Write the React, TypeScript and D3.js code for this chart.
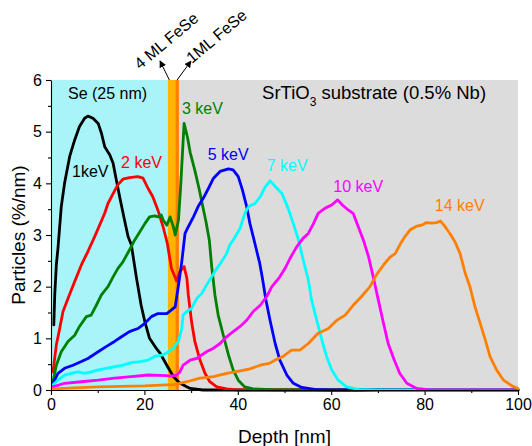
import React, { useEffect, useRef } from "react";
import * as d3 from "d3";

// ---------- data ----------
const x1keV = [0.6, 0.8, 1.14, 1.5, 2.2, 2.9, 4.0, 5.07, 6.1, 7.2, 7.9, 9.0, 10.1, 10.8, 11.5, 12.6, 13.3, 14.0, 14.7, 15.6, 16.5, 17.2, 18.3, 19.3, 20.1, 21.1, 22.6, 23.3, 24.8, 26.2, 27.6, 29.8, 32.5, 40, 100];
const y1keV = [1.26, 1.84, 2.42, 2.75, 3.55, 4.0, 4.52, 4.84, 5.1, 5.26, 5.3, 5.26, 5.16, 4.97, 4.71, 4.55, 4.39, 4.06, 3.74, 3.35, 2.97, 2.81, 2.17, 1.64, 1.32, 1.0, 0.8, 0.72, 0.48, 0.26, 0.13, 0.03, 0, 0, 0];

const x2keV = [0.43, 1.14, 1.86, 2.57, 3.64, 5.07, 6.5, 7.9, 9.35, 10.4, 11.5, 12.2, 13.3, 14.3, 15.4, 16.8, 18.6, 19.7, 20.8, 21.8, 22.9, 24.0, 24.9, 25.8, 26.9, 27.6, 28.5, 29.1, 29.4, 30.1, 30.8, 31.9, 33.0, 34.0, 35.5, 37.6, 40, 100];
const y2keV = [0.35, 0.87, 1.19, 1.52, 1.77, 2.1, 2.42, 2.68, 2.97, 3.19, 3.42, 3.61, 3.8, 3.97, 4.08, 4.11, 4.13, 4.1, 3.9, 3.74, 3.48, 3.16, 2.84, 2.35, 2.11, 2.29, 2.39, 2.16, 1.84, 1.32, 0.94, 0.58, 0.32, 0.16, 0.06, 0.02, 0, 0];

const x3keV = [0.43, 1.14, 2.2, 3.64, 5.07, 6.1, 7.57, 8.6, 9.7, 10.8, 12.2, 13.3, 14.3, 15.4, 16.8, 17.9, 19.0, 20.1, 21.1, 22.2, 22.9, 23.6, 24.0, 24.8, 25.5, 26.2, 26.6, 27.3, 27.8, 28.5, 29.2, 29.8, 30.8, 31.7, 32.5, 33.2, 33.9, 34.4, 35.1, 35.8, 36.9, 38.0, 39.0, 40.1, 41.5, 43.3, 48, 100];
const y3keV = [0.16, 0.48, 0.74, 0.94, 1.06, 1.23, 1.42, 1.45, 1.64, 1.84, 2.0, 2.19, 2.35, 2.48, 2.71, 2.9, 3.06, 3.22, 3.35, 3.37, 3.35, 3.39, 3.29, 3.19, 3.35, 3.16, 3.0, 3.29, 4.0, 5.16, 4.9, 4.6, 4.25, 3.9, 3.55, 3.25, 2.9, 2.4, 1.84, 1.45, 1.06, 0.68, 0.39, 0.19, 0.06, 0.02, 0, 0];

const x5keV = [0.43, 1.5, 2.9, 4.7, 6.5, 7.9, 10.1, 11.8, 13.6, 15.1, 16.8, 18.6, 20.1, 21.5, 22.9, 24.8, 25.8, 26.6, 27.3, 28.0, 28.7, 29.4, 30.5, 31.5, 32.6, 33.7, 34.8, 36.2, 38.0, 39.0, 40.1, 41.0, 41.9, 42.6, 43.3, 44.0, 44.7, 45.3, 46.0, 46.9, 48.0, 49.0, 50.5, 51.9, 53.7, 56.5, 60, 100];
const y5keV = [0.13, 0.32, 0.42, 0.48, 0.55, 0.61, 0.74, 0.84, 0.94, 1.03, 1.13, 1.19, 1.29, 1.42, 1.48, 1.48, 1.55, 1.61, 2.03, 2.48, 3.03, 3.16, 3.35, 3.55, 3.71, 3.9, 4.1, 4.23, 4.28, 4.26, 4.13, 3.87, 3.55, 3.22, 2.97, 2.71, 2.45, 2.15, 1.75, 1.35, 0.9, 0.58, 0.29, 0.13, 0.05, 0.01, 0, 0];

const x7keV = [0.43, 1.5, 2.9, 4.35, 5.8, 7.2, 8.6, 10.1, 11.8, 13.6, 15.4, 17.2, 19.0, 20.8, 22.2, 24.0, 24.8, 26.2, 27.3, 28.0, 28.3, 29.1, 30.1, 31.2, 32.3, 33.3, 34.4, 35.5, 36.5, 37.6, 38.3, 39.0, 40.5, 41.5, 42.3, 43.7, 44.8, 45.8, 46.9, 48.0, 49.4, 50.5, 51.9, 53.0, 54.0, 55.1, 55.8, 56.9, 58.0, 59.0, 60.1, 61.5, 63.3, 65.8, 70, 100];
const y7keV = [0.1, 0.19, 0.29, 0.32, 0.35, 0.32, 0.35, 0.39, 0.42, 0.45, 0.48, 0.53, 0.55, 0.58, 0.65, 0.68, 0.72, 0.81, 0.94, 1.19, 1.45, 1.52, 1.58, 1.77, 1.87, 2.03, 2.19, 2.35, 2.48, 2.64, 2.81, 2.9, 3.13, 3.42, 3.55, 3.61, 3.74, 3.92, 4.05, 3.94, 3.81, 3.58, 3.22, 2.9, 2.52, 2.13, 1.74, 1.35, 0.97, 0.65, 0.39, 0.19, 0.06, 0.01, 0, 0];

const x10keV = [0.43, 2.9, 6.5, 10.1, 13.6, 17.2, 20.8, 24.7, 25.5, 26.9, 27.6, 28.3, 29.8, 31.2, 32.3, 33.3, 34.8, 36.2, 37.6, 39.0, 40.5, 41.9, 43.3, 44.8, 46.2, 47.3, 49.0, 50.1, 51.2, 52.6, 54.0, 55.1, 56.2, 57.2, 58.7, 60.1, 61.4, 62.4, 63.7, 64.7, 65.8, 66.9, 68.0, 69.0, 70.1, 71.2, 72.2, 73.5, 74.7, 76.2, 78.3, 81.2, 100];
const y10keV = [0.06, 0.13, 0.16, 0.19, 0.23, 0.26, 0.29, 0.28, 0.27, 0.29, 0.35, 0.48, 0.58, 0.61, 0.68, 0.74, 0.81, 0.9, 1.03, 1.13, 1.23, 1.35, 1.52, 1.64, 1.81, 2.0, 2.19, 2.35, 2.55, 2.77, 2.94, 3.03, 3.22, 3.42, 3.52, 3.58, 3.68, 3.58, 3.48, 3.42, 3.16, 2.9, 2.58, 2.19, 1.74, 1.29, 0.9, 0.58, 0.32, 0.13, 0.03, 0, 0];

const x14keV = [0.43, 5, 10, 15, 20, 24.7, 26.2, 29.1, 31.9, 34.8, 37.6, 40.5, 42.6, 44.8, 46.9, 48.0, 49.7, 51.5, 53.3, 55.1, 57.2, 59.4, 61.2, 63.0, 64.7, 66.5, 68.3, 69.7, 71.2, 72.6, 73.7, 74.7, 75.8, 76.9, 78.3, 79.4, 80.4, 81.5, 82.6, 83.4, 84.4, 85.4, 86.5, 87.6, 88.7, 89.7, 90.8, 91.9, 93.0, 94.0, 95.4, 96.9, 98.7, 100];
const y14keV = [0.02, 0.04, 0.06, 0.07, 0.08, 0.1, 0.1, 0.16, 0.23, 0.26, 0.32, 0.37, 0.41, 0.48, 0.52, 0.58, 0.65, 0.77, 0.77, 0.9, 1.1, 1.19, 1.35, 1.45, 1.64, 1.81, 2.0, 2.23, 2.42, 2.57, 2.64, 2.81, 2.97, 3.1, 3.17, 3.19, 3.24, 3.23, 3.24, 3.27, 3.16, 3.03, 2.87, 2.64, 2.26, 2.0, 1.61, 1.29, 0.97, 0.65, 0.39, 0.19, 0.08, 0.03];

const seriesNames = ["1keV", "2 keV", "3 keV", "5 keV", "7 keV", "10 keV", "14 keV"];
const seriesX = [x1keV, x2keV, x3keV, x5keV, x7keV, x10keV, x14keV];
const seriesY = [y1keV, y2keV, y3keV, y5keV, y7keV, y10keV, y14keV];
const seriesColors = ["#000000", "#ff0000", "#008000", "#0000ff", "#00ffff", "#ff00ff", "#ff8000"];
// label anchor positions in data units (depth nm, particles %/nm)
const labelX = [4.5, 15.0, 28.05, 33.55, 46.2, 60.45, 82.2];
const labelY = [4.12, 4.3, 5.34, 4.45, 4.24, 3.84, 3.46];
const labelColors = ["#000000", "#ff0000", "#008000", "#0000ff", "#00ffff", "#ff00ff", "#ff8000"];

// layer regions (depth nm)
const layerStart = [0, 25, 26.6, 27.4];
const layerEnd = [25, 26.6, 27.4, 100];
const layerColors = ["#a8f4f8", "#ffb400", "#ff7f00", "#dcdcdc"];

const xMajorTicks = [0, 20, 40, 60, 80, 100];
const xMinorTicks = [10, 30, 50, 70, 90];
const yMajorTicks = [0, 1, 2, 3, 4, 5, 6];
const yMinorTicks = [0.5, 1.5, 2.5, 3.5, 4.5, 5.5];

const W = 532;
const H = 446;
const FONT = "'Liberation Sans', Arial, Helvetica, sans-serif";

export default function App() {
  const xAxisRef = useRef<SVGGElement>(null);
  const yAxisRef = useRef<SVGGElement>(null);
  const xMinRef = useRef<SVGGElement>(null);
  const yMinRef = useRef<SVGGElement>(null);

  const x = d3.scaleLinear().domain([0, 100]).range([51, 518]);
  const y = d3.scaleLinear().domain([0, 6]).range([390, 80]);

  useEffect(() => {
    const styleAxis = (g: any) => {
      g.select(".domain").attr("stroke", "#000").attr("stroke-width", 1.1);
      g.selectAll(".tick line").attr("stroke", "#000").attr("stroke-width", 1.1);
      g.selectAll(".tick text").attr("fill", "#000").style("font-family", FONT).style("font-size", "16px");
    };
    const gx = d3.select(xAxisRef.current!);
    gx.call(d3.axisBottom(x).tickValues(xMajorTicks).tickSize(5).tickSizeOuter(0).tickPadding(4).tickFormat(d3.format("d")) as any);
    styleAxis(gx);
    const gy = d3.select(yAxisRef.current!);
    gy.call(d3.axisLeft(y).tickValues(yMajorTicks).tickSize(5).tickSizeOuter(0).tickPadding(4).tickFormat(d3.format("d")) as any);
    styleAxis(gy);
    const gxm = d3.select(xMinRef.current!);
    gxm.call(d3.axisBottom(x).tickValues(xMinorTicks).tickSize(3).tickSizeOuter(0).tickFormat(() => "") as any);
    gxm.select(".domain").remove();
    gxm.selectAll(".tick line").attr("stroke", "#000").attr("stroke-width", 1.1);
    const gym = d3.select(yMinRef.current!);
    gym.call(d3.axisLeft(y).tickValues(yMinorTicks).tickSize(3).tickSizeOuter(0).tickFormat(() => "") as any);
    gym.select(".domain").remove();
    gym.selectAll(".tick line").attr("stroke", "#000").attr("stroke-width", 1.1);
  }, []);

  const line = d3
    .line<[number, number]>()
    .x((d) => x(d[0]))
    .y((d) => y(d[1]))
    .curve(d3.curveLinear);

  const bandLeft = x(25.35);
  const bandRight = x(27.0);

  return (
    <svg
      width={W}
      height={H}
      style={{ position: "absolute", left: 0, top: 0, background: "#fff" }}
      fontFamily={FONT}
    >
      <defs>
        <marker id="arr" viewBox="0 0 10 10" refX="9" refY="5" markerWidth="7" markerHeight="7" orient="auto" markerUnits="userSpaceOnUse">
          <path d="M0,0 L10,5 L0,10 z" fill="#000" />
        </marker>
      </defs>
      {layerStart.map((s, i) => (
        <rect key={i} x={x(s)} y={y(6)} width={x(layerEnd[i]) - x(s)} height={y(0) - y(6)} fill={layerColors[i]} />
      ))}

      <text x={x(3.64)} y={y(5.63)} fontSize={16} fill="#000">Se (25 nm)</text>
      <text x={x(45.2)} y={y(5.63)} fontSize={18.5} fill="#000">
        SrTiO<tspan fontSize={12} dy={7}>3</tspan>
        <tspan dy={-7}> substrate (0.5% Nb)</tspan>
      </text>

      {seriesX.map((xs, i) => (
        <path
          key={seriesNames[i]}
          d={line(xs.map((v, j) => [v, seriesY[i][j]]) as [number, number][]) || ""}
          fill="none"
          stroke={seriesColors[i]}
          strokeWidth={2.8}
          strokeLinejoin="round"
          strokeLinecap="round"
        />
      ))}

      {seriesNames.map((n, i) => (
        <text key={"l" + n} x={x(labelX[i])} y={y(labelY[i])} fontSize={16} fill={labelColors[i]}>
          {n}
        </text>
      ))}

      <g ref={xMinRef} transform={`translate(0,${y(0)})`} />
      <g ref={yMinRef} transform={`translate(${x(0)},0)`} />
      <g ref={xAxisRef} transform={`translate(0,${y(0)})`} />
      <g ref={yAxisRef} transform={`translate(${x(0)},0)`} />

      <line x1={bandLeft} y1={y(6)} x2={160} y2={61} stroke="#000" strokeWidth={1} markerEnd="url(#arr)" />
      <line x1={bandRight} y1={y(6)} x2={191} y2={61} stroke="#000" strokeWidth={1} markerEnd="url(#arr)" />
      <text transform="translate(140,70) rotate(-40)" fontSize={16} fill="#000">4 ML FeSe</text>
      <text transform="translate(192,64) rotate(-40)" fontSize={16} fill="#000">1ML FeSe</text>

      <text x={(x(0) + x(100)) / 2} y={443} fontSize={19} textAnchor="middle" fill="#000">Depth [nm]</text>
      <text transform={`translate(25,${(y(0) + y(6)) / 2}) rotate(-90)`} fontSize={19} textAnchor="middle" fill="#000">
        Particles (%/nm)
      </text>
    </svg>
  );
}
